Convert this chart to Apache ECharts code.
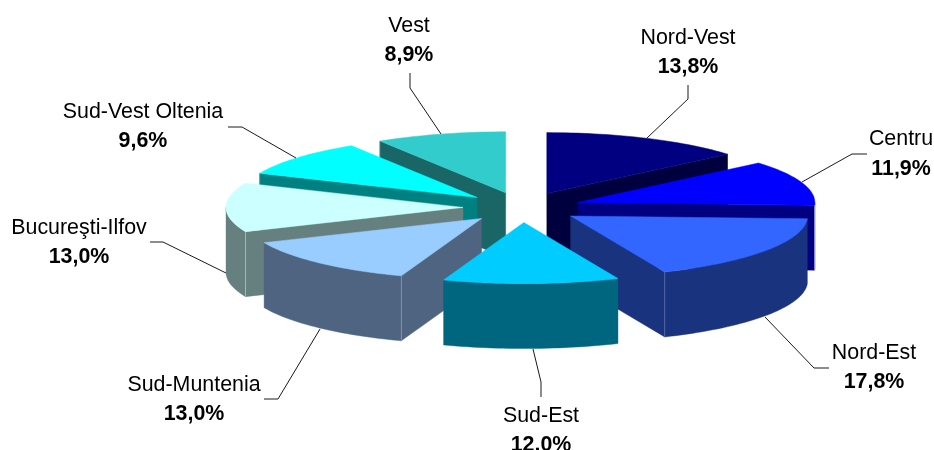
<!DOCTYPE html>
<html>
<head>
<meta charset="utf-8">
<style>html,body{margin:0;padding:0;background:#fff}#c{width:934px;height:450px}</style>
<script src="https://cdn.jsdelivr.net/npm/echarts@6/dist/echarts.min.js"></script>
</head>
<body>
<div id="c"></div>
<script>
// ---- data ----
var regions = ['Nord-Vest','Centru','Nord-Est','Sud-Est','Sud-Muntenia','Bucureşti-Ilfov','Sud-Vest Oltenia','Vest'];
var shares = [13.8, 11.9, 17.8, 12.0, 13.0, 13.0, 9.6, 8.9];
var shareLabels = ['13,8%','11,9%','17,8%','12.0%','13,0%','13,0%','9,6%','8,9%'];
// ---- styles ----
var topColors  = ['#000080','#0000FF','#3366FF','#00CCFF','#99CCFF','#CCFFFF','#00FFFF','#33CCCC'];
var sideColors = ['#00003F','#000080','#1A337F','#006680','#4E6480','#668080','#008080','#1A6666'];
var edgeColors = ['#33336A','#B0B0E8','#5A70A8','#4A90A8','#8C9CB0','#B0C4C4','#40A0A0','#4A8888'];
// ---- layout ----
var cx = 522, cy = 207.4, rx = 237, ry = 61, depth = 65, explode = 59, tilt = ry / rx;
var labelPos = [[688,38,67],[901,139,169],[874,353,382],[541,416,445],[194,385,414],[79,228,257],[143,112,141],[409,26,55]];
var leaders = [
  [[688,85],[688,99],[647,138]],
  [[867,154],[852,154],[802,182]],
  [[829,368],[814,368],[765,317]],
  [[541,397],[541,382],[533,349]],
  [[264,399],[278,399],[320,329]],
  [[150,242],[163,242],[226,273]],
  [[228,127],[242,127],[296,158]],
  [[410,73],[410,88],[441,134]]
];

var total = shares.reduce(function(a,b){return a+b;},0);
var D = Math.PI/180;
function sliceAngles(i){
  var s = 0;
  for (var k=0;k<i;k++) s += shares[k];
  return [s/total*360, (s+shares[i])/total*360];
}
var rank = shares.map(function(_,i){
  var a = sliceAngles(i), m = (a[0]+a[1])/2*D;
  return {i:i, d:Math.cos(m)};
}).sort(function(p,q){return q.d-p.d;}).reduce(function(o,p,r){o[p.i]=r;return o;},{});

function renderItem(params, api){
  var i = params.dataIndex;
  var ang = sliceAngles(i), a0 = ang[0], a1 = ang[1], mid = (a0+a1)/2*D;
  var ax = cx + explode*Math.sin(mid), ay = cy - explode*tilt*Math.cos(mid);
  function rim(deg, dy){
    return [ax + rx*Math.sin(deg*D), ay - ry*Math.cos(deg*D) + (dy||0)];
  }
  function arc(from, to, dy){
    var pts = [], n = Math.max(2, Math.ceil((to-from)/1.5));
    for (var k=0;k<=n;k++) pts.push(rim(from+(to-from)*k/n, dy));
    return pts;
  }
  var base = rank[i]*10, children = [];
  var sideStyle = {fill:sideColors[i], stroke:sideColors[i], lineWidth:0.4};
  function poly(points, style, z){
    children.push({type:'polygon', shape:{points:points}, style:style, z2:base+z});
  }
  function corner(p){
    children.push({type:'line', shape:{x1:p[0],y1:p[1],x2:p[0],y2:p[1]+depth},
      style:{stroke:edgeColors[i], lineWidth:0.8}, z2:base+2.5});
  }
  // cut face seen from the front
  if (a0 > 180 && a0 < 360){
    var p = rim(a0);
    poly([[ax,ay],p,[p[0],p[1]+depth],[ax,ay+depth]], sideStyle, 1);
    corner(p);
  }
  if (a1 > 0 && a1 < 180){
    var q = rim(a1);
    poly([[ax,ay],q,[q[0],q[1]+depth],[ax,ay+depth]], sideStyle, 1);
    corner(q);
  }
  // outer wall: front half of the rim only
  var f = Math.max(a0,90), t = Math.min(a1,270);
  if (t > f){
    poly(arc(f,t,0).concat(arc(f,t,depth).reverse()), sideStyle, 2);
  }
  // top face
  poly([[ax,ay]].concat(arc(a0,a1,0)), {fill:topColors[i], stroke:topColors[i], lineWidth:0.5}, 3);
  // leader line
  children.push({type:'polyline', shape:{points:leaders[i]},
    style:{fill:null, stroke:'#1a1a1a', lineWidth:1}, z2:1000});
  // labels
  var lp = labelPos[i];
  children.push({type:'text', z2:1001, style:{text:regions[i], x:lp[0], y:lp[1], align:'center', verticalAlign:'middle',
    font:'21.4px "Liberation Sans", Arial, sans-serif', fill:'#000'}});
  children.push({type:'text', z2:1001, style:{text:shareLabels[i], x:lp[0], y:lp[2], align:'center', verticalAlign:'middle',
    font:'bold 21.4px "Liberation Sans", Arial, sans-serif', fill:'#000'}});
  return {type:'group', children:children};
}

var chart = echarts.init(document.getElementById('c'), null, {renderer:'canvas'});
chart.setOption({
  animation:false,
  backgroundColor:'#fff',
  series:[{
    type:'custom',
    coordinateSystem:'none',
    renderItem:renderItem,
    data:shares.map(function(v,i){return {name:regions[i], value:[v]};}),
    silent:true
  }]
});
</script>
</body>
</html>
